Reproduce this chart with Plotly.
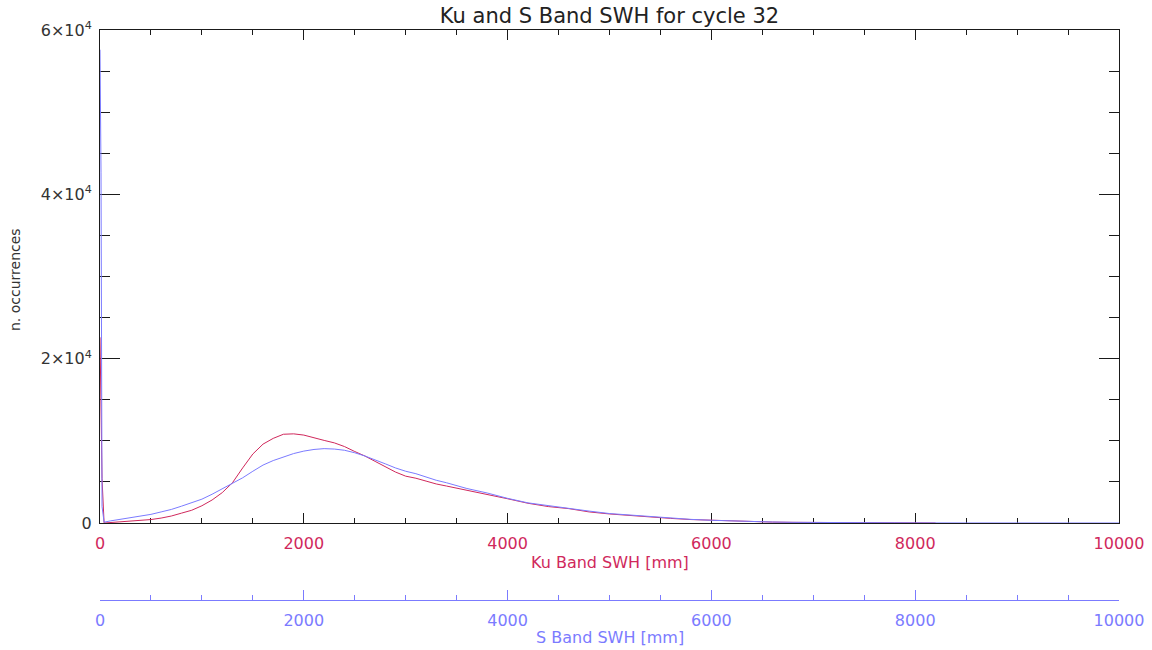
import plotly.graph_objects as go

# ---- data ----
ku_swh_mm = [0, 10, 20, 40, 100, 200, 300, 400, 500, 600, 700, 800, 900, 1000,
             1100, 1200, 1300, 1400, 1500, 1600, 1700, 1800, 1900, 2000, 2100,
             2200, 2300, 2400, 2500, 2600, 2700, 2800, 2900, 3000, 3100, 3200,
             3300, 3400, 3500, 3600, 3800, 4000, 4200, 4400, 4600, 4800, 5000,
             5200, 5400, 5600, 5800, 6000, 6200, 6400, 6600, 6800, 7000, 7400,
             7800, 8000, 8200]
ku_counts = [22600, 14000, 5400, 0, 50, 120, 200, 300, 420, 600, 850, 1200, 1550,
             2100, 2800, 3700, 4900, 6700, 8400, 9600, 10300, 10800, 10850, 10700,
             10350, 10050, 9750, 9300, 8700, 8150, 7500, 6850, 6200, 5700, 5450,
             5100, 4750, 4500, 4250, 4000, 3500, 2950, 2400, 2000, 1750, 1350,
             1100, 900, 720, 560, 420, 330, 230, 170, 110, 80, 50, 30, 20, 15, 0]

s_swh_mm = [0, 10, 20, 40, 100, 200, 300, 400, 500, 600, 700, 800, 900, 1000,
            1100, 1200, 1300, 1400, 1500, 1600, 1700, 1800, 1900, 2000, 2100,
            2200, 2300, 2400, 2500, 2600, 2700, 2800, 2900, 3000, 3100, 3200,
            3300, 3400, 3500, 3600, 3800, 4000, 4200, 4400, 4600, 4800, 5000,
            5200, 5400, 5600, 5800, 6000, 6200, 6400, 6600, 6800, 7000, 7500,
            8000, 8500, 9000, 10000]
s_counts = [57600, 42700, 2000, 100, 250, 450, 650, 850, 1050, 1350, 1650, 2050,
            2450, 2900, 3500, 4150, 4800, 5500, 6300, 7050, 7600, 8050, 8450,
            8750, 8950, 9050, 9000, 8850, 8550, 8150, 7700, 7200, 6700, 6300,
            6000, 5600, 5200, 4900, 4550, 4200, 3650, 3000, 2450, 2100, 1800,
            1450, 1150, 950, 750, 580, 440, 330, 240, 170, 120, 80, 55, 30, 15,
            5, 0, 0]

x_tickvals = [0, 2000, 4000, 6000, 8000, 10000]
x_ticktext = ["0", "2000", "4000", "6000", "8000", "10000"]
y_tickvals = [0, 20000, 40000, 60000]
y_ticktext = ["0", "2×10<sup>4</sup>", "4×10<sup>4</sup>", "6×10<sup>4</sup>"]

title_text = "Ku and S Band SWH for cycle 32"
ku_title = "Ku Band SWH [mm]"
s_title = "S Band SWH [mm]"
y_title = "n. occurrences"

RED = "#d0285c"
BLUE = "#7b7bff"
AXC = "#1a1a1a"
FONT = "DejaVu Sans"

fig = go.Figure()
fig.add_trace(go.Scatter(x=ku_swh_mm, y=ku_counts, mode="lines",
                         line=dict(color=RED, width=1), xaxis="x", yaxis="y",
                         name="Ku", showlegend=False))
fig.add_trace(go.Scatter(x=s_swh_mm, y=s_counts, mode="lines",
                         line=dict(color=BLUE, width=1), xaxis="x2", yaxis="y",
                         name="S", showlegend=False))

fig.update_layout(
    width=1152, height=650,
    paper_bgcolor="white", plot_bgcolor="white",
    margin=dict(l=100, r=33, t=30, b=30, autoexpand=False),
    font=dict(family=FONT, size=15, color=AXC),
    title=dict(text=title_text, x=609.5 / 1152, xanchor="center", xref="container",
               y=1 - 16 / 650, yanchor="middle", yref="container",
               font=dict(family=FONT, size=21, color="#222")),
    xaxis=dict(range=[0, 10000], anchor="y", showgrid=False, zeroline=False,
               showline=True, linecolor=AXC, linewidth=1, mirror="ticks",
               layer="below traces",
               ticks="inside", ticklen=10, tickcolor=AXC, tickwidth=1,
               tickvals=x_tickvals, ticktext=x_ticktext,
               tickfont=dict(family=FONT, size=16, color=RED),
               ticklabelstandoff=6,
               minor=dict(dtick=500, tick0=0, ticks="inside", ticklen=5,
                          tickcolor=AXC, showgrid=False)),
    xaxis2=dict(range=[0, 10000], overlaying="x", anchor="free",
                position=(620 - 600) / 590, side="bottom",
                showgrid=False, zeroline=False,
                showline=True, linecolor=BLUE, linewidth=1,
                ticks="inside", ticklen=10, tickcolor=BLUE, tickwidth=1,
                tickvals=x_tickvals, ticktext=x_ticktext,
                tickfont=dict(family=FONT, size=16, color=BLUE),
                ticklabelstandoff=6,
                minor=dict(dtick=500, tick0=0, ticks="inside", ticklen=5,
                           tickcolor=BLUE, showgrid=False)),
    yaxis=dict(range=[0, 60000], domain=[(620 - 523) / 590, 1],
               showgrid=False, zeroline=False,
               showline=True, linecolor=AXC, linewidth=1, mirror="ticks",
               layer="below traces",
               ticks="inside", ticklen=20, tickcolor=AXC, tickwidth=1,
               tickvals=y_tickvals, ticktext=y_ticktext,
               tickfont=dict(family=FONT, size=16, color="#333"),
               ticklabelstandoff=4,
               minor=dict(dtick=5000, tick0=0, ticks="inside", ticklen=10,
                          tickcolor=AXC, showgrid=False)),
    annotations=[
        dict(text=ku_title, xref="paper", yref="paper", x=0.5,
             y=(620 - 562) / 590, xanchor="center", yanchor="middle",
             showarrow=False, font=dict(family=FONT, size=16, color=RED)),
        dict(text=s_title, xref="paper", yref="paper", x=0.5,
             y=(620 - 637) / 590, xanchor="center", yanchor="middle",
             showarrow=False, font=dict(family=FONT, size=16, color=BLUE)),
        dict(text=y_title, xref="paper", yref="paper", x=(15 - 100) / 1019,
             y=(620 - 280) / 590, xanchor="center", yanchor="middle",
             textangle=-90, showarrow=False,
             font=dict(family=FONT, size=14, color="#333")),
    ],
)

fig.write_html("out.html",
               config={"displayModeBar": False},
               post_script="document.body.style.margin='0';"
                           "document.body.style.overflow='hidden';")
